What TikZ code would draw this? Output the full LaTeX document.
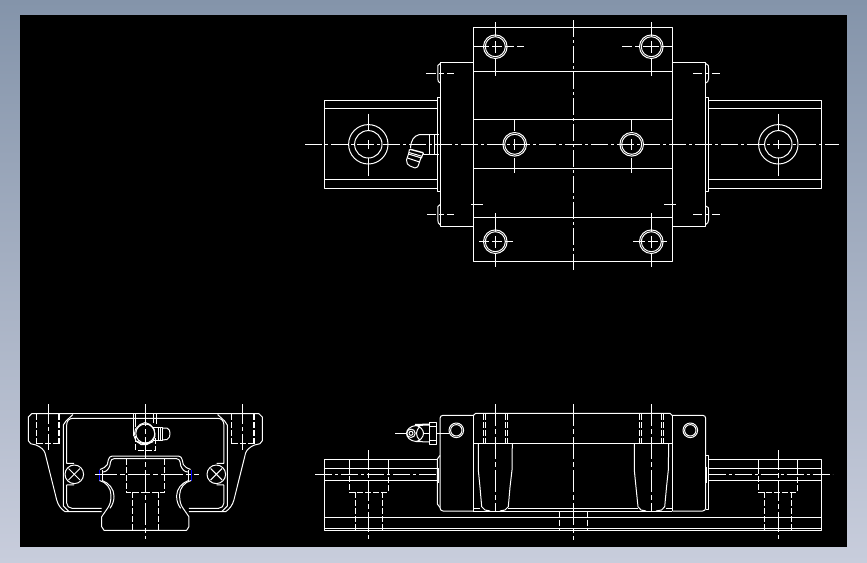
\documentclass[tikz,border=0pt]{standalone}
\definecolor{frametop}{RGB}{132,148,170}
\definecolor{framebot}{RGB}{200,205,220}
\begin{document}
\begin{tikzpicture}[x=1pt,y=-1pt,
  ln/.style={draw=white,line width=1pt,line join=round},
  ctr/.style={draw=white,line width=1pt,dash pattern=on 17pt off 3pt on 3pt off 3pt},
  hid/.style={draw=white,line width=1pt,dash pattern=on 6pt off 2pt},
  cross/.style={draw=white,line width=1pt,dash pattern=on 22pt off 3pt on 5pt off 3pt}]
\useasboundingbox (0,0) rectangle (867,562);
\fill[top color=frametop,bottom color=framebot] (0,0) rectangle (867,562);
\fill[black] (20,15) rectangle (847,547);

% ---- top view ----
\draw[ln] (473.3,27.3) rectangle (672.3,261.3);
\foreach \yy in {71.3,119.3,168.3,217.3} \draw[ln] (473.3,\yy) -- (672.3,\yy);
\draw[ln] (473.3,62.3) -- (440.3,62.3) -- (440.3,226.3) -- (473.3,226.3);
\draw[ln] (672.3,62.3) -- (705.7,62.3) -- (705.7,226.3) -- (672.3,226.3);
\draw[ln] (440.3,97.3) -- (437.3,97.3) -- (437.3,191.3) -- (440.3,191.3);
\draw[ln] (705.7,97.3) -- (708.5,97.3) -- (708.5,191.3) -- (705.7,191.3);
\draw[ln] (437.3,100.3) -- (324.3,100.3) -- (324.3,188.3) -- (437.3,188.3);
\draw[ln] (324.3,108.3) -- (437.3,108.3) (324.3,179.3) -- (437.3,179.3);
\draw[ln] (708.5,100.3) -- (821.3,100.3) -- (821.3,188.3) -- (708.5,188.3);
\draw[ln] (708.5,108.3) -- (821.3,108.3) (708.5,179.3) -- (821.3,179.3);
% rail holes
\foreach \xx in {368.3,778.3} {
  \draw[ln] (\xx,144.3) circle[radius=19.7];
  \draw[ln] (\xx,144.3) circle[radius=13.7];
  \draw[ln] (\xx,113.5) -- (\xx,131) (\xx,140) -- (\xx,149) (\xx,158) -- (\xx,175.5);
}
% carriage holes
\foreach \xx/\yy in {495.3/46.7,651.3/46.7,495.3/241.7,651.3/241.7,514.7/144.3,631.7/144.3} {
  \draw[ln] (\xx,\yy) circle[radius=11.8];
  \draw[ln] (\xx,\yy) circle[radius=10];
}
\draw[ln] (495.3,22) -- (495.3,36) (495.3,41) -- (495.3,53) (495.3,58) -- (495.3,75.7);
\draw[ln] (651.3,22) -- (651.3,36) (651.3,41) -- (651.3,53) (651.3,58) -- (651.3,75.7);
\draw[ln] (473.3,46.7) -- (489,46.7) (492,46.7) -- (502,46.7) (505,46.7) -- (514,46.7) (517,46.7) -- (524,46.7);
\draw[ln] (622,46.7) -- (632,46.7) (635,46.7) -- (640,46.7) (643,46.7) -- (659,46.7) (662,46.7) -- (672.3,46.7);
\draw[ln] (495.3,213) -- (495.3,231) (495.3,236) -- (495.3,248) (495.3,253) -- (495.3,266.7);
\draw[ln] (651.3,213) -- (651.3,231) (651.3,236) -- (651.3,248) (651.3,253) -- (651.3,266.7);
\draw[ln] (479,241.7) -- (489,241.7) (492,241.7) -- (502,241.7) (505,241.7) -- (512.7,241.7);
\draw[ln] (633,241.7) -- (645,241.7) (648,241.7) -- (658,241.7) (661,241.7) -- (666.7,241.7);
\draw[ln] (514.7,119.3) -- (514.7,131) (514.7,139) -- (514.7,150) (514.7,158) -- (514.7,173);
\draw[ln] (631.7,119.3) -- (631.7,131) (631.7,139) -- (631.7,150) (631.7,158) -- (631.7,173);
% small ticks
\draw[ln] (471,204.3) -- (483,204.3) (664,204.3) -- (676,204.3);
% end-cap screws
\draw[ln] (426,73.3) -- (436,73.3) (439,73.3) -- (444,73.3) (447,73.3) -- (454,73.3);
\draw[ln] (427,214.3) -- (436,214.3) (439,214.3) -- (444,214.3) (447,214.3) -- (454,214.3);
\draw[ln] (693,73.3) -- (702,73.3) (705,73.3) -- (709,73.3) (712,73.3) -- (720,73.3);
\draw[ln] (693,214.3) -- (702,214.3) (705,214.3) -- (709,214.3) (712,214.3) -- (720,214.3);
\draw[ln] (440.3,63.5) .. controls (437.5,64.5) and (437.5,66) .. (437.8,68) -- (437.8,79) .. controls (437.8,81) and (438.5,82.5) .. (440.3,83);
\draw[ln] (440.3,204.5) .. controls (437.5,205.5) and (437.5,207) .. (437.8,209) -- (437.8,220) .. controls (437.8,222) and (438.5,224.5) .. (440.3,225);
\draw[ln] (705.7,63.5) .. controls (708.5,64.5) and (708.7,66) .. (708.5,68) -- (708.5,79) .. controls (708.5,81) and (707.5,82.5) .. (705.7,83);
\draw[ln] (705.7,206) .. controls (708.5,207) and (708.7,208) .. (708.5,210) -- (708.5,220) .. controls (708.5,222) and (707.5,224) .. (705.7,224.5);
% centre lines
\draw[ctr] (305,144.3) -- (838.7,144.3);
\draw[ctr] (573.3,20) -- (573.3,270);
% grease nipple, plan
\draw[ln] (439.3,134.7) -- (429.3,134.7) -- (429.3,154.3) -- (439.3,154.3);
\draw[ln] (434.3,134.7) -- (434.3,154.3);
\draw[ln] (429.3,134.7) -- (419,134.7) .. controls (414,136) and (411,140) .. (410.5,148);
\draw[ln] (429.3,154.3) -- (423.5,154.3) -- (423.5,152.5);
\draw[ln,line width=1.4pt] (410,149.3) -- (423.3,152.8);
\draw[ln] (409,152.5) -- (422,156.3);
\draw[ln] (409.5,149.3) -- (408.5,154) -- (421.5,158) -- (423.3,152.8);
\draw[ln] (408.5,154) -- (406.5,160) .. controls (406,163) and (408,165) .. (410,166) -- (415,168) .. controls (417.5,168) and (418,166) .. (418.5,165) -- (421,157.5);
\draw[ln] (407.5,158) -- (419.5,162);

% ---- end view ----
\newcommand{\halfprofile}{
  \draw[ln] (73,413.7) -- (145.3,413.7);
  \draw[ln] (73,413.7) -- (31.7,413.7) -- (28.3,417) -- (28.3,440.7) -- (30.7,443.7) -- (36,445)
     .. controls (41,447) and (44,450) .. (45,453) -- (56.7,500) .. controls (58,505) and (61,509) .. (65,511.7) -- (101.7,511.7);
  \draw[ln] (73,414.5) -- (66,421) -- (63.3,425) -- (63.3,506) -- (69,511.7);
  \draw[ln] (145.3,418.3) -- (73,418.3) .. controls (69,418.3) and (66.7,421) .. (66.7,425) -- (66.7,463.3) -- (74,463.3)
     (66.7,484.8) -- (74,484.8) (66.7,484.8) -- (66.7,503) .. controls (66.7,506) and (69,508.3) .. (72,508.3) -- (101.7,508.3);
  \draw[ln] (74.3,474.3) circle[radius=9.3];
  \draw[ln] (68.5,468.5) -- (80,480) (80,468.5) -- (68.5,480);
  \draw[hid,line width=1.4pt] (36.7,414) -- (36.7,444);
  \draw[hid,line width=1.4pt] (59,414) -- (59,444);
  \draw[hid] (36.7,443.3) -- (59,443.3);
  \draw[ctr,dash pattern=on 20pt off 3pt on 4pt off 3pt] (48.3,404) -- (48.3,450);
  % rail
  \draw[ln] (145.3,456) -- (113.3,456) .. controls (110,456) and (108.5,458) .. (108.3,460) -- (107.3,464.5) .. controls (106,467) and (103,468.5) .. (100,469.5);
  \draw[ln] (145.3,458.7) -- (114,458.7) .. controls (112,458.7) and (111,460) .. (110.5,462) -- (109.8,466) .. controls (108,470) and (106,472) .. (102.5,472);
  \draw[draw=blue,line width=1pt] (99.5,469.5) -- (99.5,480.5);
  \draw[ln] (102.2,469.5) -- (102.2,480.5);
  \draw[ln] (99.5,480.5) .. controls (106,482) and (111,488) .. (111,495) .. controls (111,501) and (110,505) .. (107.5,508.3) -- (101.7,516.7) -- (101.7,526.7) -- (104,530.3) -- (145.3,530.3);
  \draw[ln] (102.2,480.5) .. controls (109,483) and (114,489) .. (114,496) .. controls (114,501) and (112.5,505) .. (110,508.3);
  \draw[hid] (126.3,459) -- (126.3,492.3) -- (145.3,492.3);
  \draw[hid] (132.3,492.3) -- (132.3,530);
}
\halfprofile
\begin{scope}[xshift=290.6pt,xscale=-1]\halfprofile\end{scope}
\draw[cross] (95,474.3) -- (199,474.3);
\draw[cross] (145.3,404) -- (145.3,539.3);
\draw[ln] (121,413) -- (170,413);
% nipple, end view
\draw[ln] (133.3,414) -- (133.3,436) (156.7,414) -- (156.7,424);
\draw[ln] (135.5,414) -- (135.5,427) (153.5,414) -- (153.5,423);
\draw[ln] (145.3,422.5) -- (150,424.5) -- (154,429) -- (155,436) -- (153,441) -- (147,444.5) -- (141,444.5) -- (136,441) -- (134,436) -- (135.5,429) -- (140,424.5) -- cycle;
\draw[ln] (145.3,433.5) circle[radius=9.5];
\draw[ln,line width=1.4pt] (137,441.5) .. controls (141,444) and (149,444) .. (153,441.5);
\draw[hid] (135.7,436) -- (135.7,450) -- (155.7,450) -- (155.7,436);
\draw[ln] (153,427.5) -- (162,427.5) -- (162,440.5) -- (153,440.5);
\draw[ln] (158,427) -- (158,440.5) (160,427) -- (160,440.5);
\draw[ln] (162,428) -- (167,428) .. controls (169.5,429) and (170,431) .. (170,433.5) .. controls (170,436) and (169.5,438.5) .. (167,439.5) -- (162,440);

% ---- side view ----
\draw[ln] (473.3,415.5) -- (475.7,413.3) -- (670,413.3) -- (672.3,415.5);
\draw[ln] (473.3,415.3) -- (473.3,511) (672.3,415.3) -- (672.3,511);
\draw[ln] (473.3,443.3) -- (672.3,443.3);
\draw[ln,rounded corners=3pt] (473.3,415.3) -- (440,415.3) -- (440,511) -- (473.3,511);
\draw[ln,rounded corners=3pt] (672.3,415.3) -- (705.7,415.3) -- (705.7,511) -- (672.3,511);
\draw[ln] (440,455.5) -- (437.3,459) -- (437.3,504) -- (440,507.5);
\draw[ln] (705.7,455) -- (708.7,455) -- (708.7,509) -- (705.7,509);
\draw[ln] (438.6,468) -- (438.6,483);
\draw[ln] (706.8,467) -- (706.8,483);
\draw[ln] (473.3,511) -- (672.3,511);
\draw[ln] (473.3,508.3) -- (480,508.3) (508,508.3) -- (638,508.3) (666,508.3) -- (672.3,508.3);
% rail
\draw[ln] (437.3,459.3) -- (324.3,459.3) -- (324.3,530.3) -- (821.3,530.3) -- (821.3,459.3) -- (708.7,459.3);
\draw[ln] (324.3,468.3) -- (437.3,468.3) (324.3,480.3) -- (437.3,480.3);
\draw[ln] (708.7,468.3) -- (821.3,468.3) (708.7,480.3) -- (821.3,480.3);
\draw[ln] (324.3,517.3) -- (821.3,517.3) (324.3,528.3) -- (821.3,528.3);
\draw[ctr] (315,474.3) -- (437,474.3);
\draw[ctr] (708.7,474.3) -- (832.7,474.3);
\foreach \xa/\xb/\xc/\xd/\xm in {349.3/388.3/355.3/382.3/368.3, 758.3/797.3/764.3/791.3/778.3} {
  \draw[ln] (\xa,459.3) -- (\xa,468.3) (\xb,459.3) -- (\xb,468.3);
  \draw[hid] (\xa,468.3) -- (\xa,492.3) -- (\xb,492.3) -- (\xb,468.3);
  \draw[hid] (\xc,492.3) -- (\xc,530) (\xd,492.3) -- (\xd,530);
  \draw[ctr,dash pattern=on 20pt off 3pt on 5pt off 3pt] (\xm,450) -- (\xm,539.3);
}
\draw[hid] (559.3,511.7) -- (559.3,530) (587.3,511.7) -- (587.3,530);
\draw[cross] (573.3,404) -- (573.3,540);
% carriage bolts
\foreach \xa/\xb/\xc/\xd/\xm in {483.3/485.3/505.3/507.3/495.3, 639.3/641.3/661.7/663.7/651.3} {
  \draw[hid] (\xa,414) -- (\xa,443) (\xb,414) -- (\xb,443) (\xc,414) -- (\xc,443) (\xd,414) -- (\xd,443);
  \draw[cross] (\xm,404) -- (\xm,511);
}
\draw[ln] (478.3,443.3) -- (478.3,470) -- (480,487.3) -- (481.7,506.7) -- (485,510) -- (490,511);
\draw[ln] (512.3,443.3) -- (512,470) -- (510,487.3) -- (508.3,506.7) -- (505,510) -- (500,511);
\draw[ln] (634.3,443.3) -- (634.3,470) -- (636,487.3) -- (638,506.7) -- (641,510) -- (646,511);
\draw[ln] (668.7,443.3) -- (668.3,470) -- (666.5,487.3) -- (664.7,506.7) -- (661.5,510) -- (656,511);
% side holes
\foreach \xx in {456.3,690.3} {
  \draw[ln] (\xx,430.3) circle[radius=7.3];
  \draw[ln] (\xx,430.3) circle[radius=5.7];
}
\draw[ln] (439.3,433.3) -- (449,433.3);
% nipple, side
\draw[ln] (395,433.3) -- (406.5,433.3);
\draw[ln] (429.3,422.3) rectangle (436.7,444.3);
\draw[ln] (429.3,426) -- (436.7,426) (429.3,440.7) -- (436.7,440.7);
\draw[ln] (436.7,433.3) -- (440,433.3);
\draw[ln] (411,433.3) circle[radius=2];
\draw[ln] (411,433.3) circle[radius=4.2];
\draw[ln] (416,425.5) .. controls (410,426) and (406.5,430) .. (406.5,433.3) .. controls (406.5,437) and (410,441) .. (416,441.5);
\draw[ln] (416,425.5) .. controls (420,426) and (423.5,430) .. (423.5,433.3) .. controls (423.5,437) and (420,441) .. (416,441.5);
\draw[ln] (416,425.5) -- (429.3,425) (415,424.5) -- (429.3,424) (416,441.5) -- (429.3,442);
\draw[ln] (420,426.5) .. controls (417.5,429) and (416.5,431) .. (416.5,433.3) .. controls (416.5,436) and (417.5,438) .. (420,440.5);
\draw[ln] (423.5,433.3) -- (429.3,433.3);
\end{tikzpicture}
\end{document}
